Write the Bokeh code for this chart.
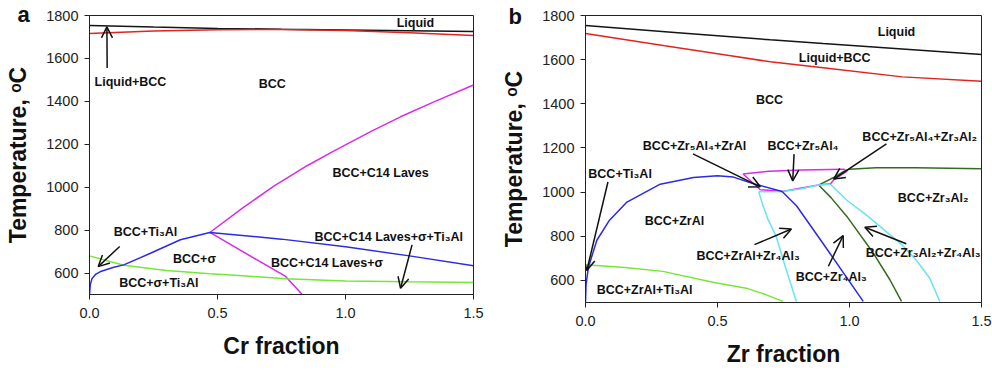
from bokeh.plotting import figure
from bokeh.layouts import row
from bokeh.models import (Range1d, FixedTicker, PrintfTickFormatter, ColumnDataSource,
                          Arrow, OpenHead, Title)
from bokeh.core.properties import value
from bokeh.embed import file_html
from bokeh.resources import INLINE

FONT = "Liberation Sans"

# ---------------- Panel a: Ti-Al-Cr isopleth (Cr fraction) ----------------
cr_liquid_x = [0.0, 0.25, 0.5, 0.75, 1.0, 1.25, 1.5]
cr_liquid_y = [1753, 1746, 1740, 1736, 1733, 1729, 1725]
cr_solidus_x = [0.0, 0.25, 0.5, 0.75, 1.0, 1.25, 1.5]
cr_solidus_y = [1716, 1728, 1734, 1735, 1730, 1720, 1707]
cr_laves_x = [0.47, 0.6, 0.72, 0.85, 0.95, 1.1, 1.215, 1.35, 1.5]
cr_laves_y = [789, 905, 1005, 1100, 1166, 1260, 1328, 1400, 1476]
cr_sigma_laves_x = [0.47, 0.766, 0.831]
cr_sigma_laves_y = [789, 584, 500]
cr_ti3al_x = [0.0, 0.003, 0.01, 0.025, 0.043, 0.095, 0.134, 0.238, 0.355, 0.47, 0.75, 1.0, 1.25, 1.5]
cr_ti3al_y = [500, 545, 575, 595, 607, 627, 638, 692, 755, 789, 758, 722, 680, 634]
cr_lowt_x = [0.0, 0.134, 0.3, 0.47, 0.6, 0.766, 1.0, 1.25, 1.5]
cr_lowt_y = [680, 636, 612, 597, 587, 573, 563, 559, 556]

cr_labels = ["Liquid", "Liquid+BCC", "BCC", "BCC+C14 Laves", "BCC+Ti₃Al", "BCC+σ",
             "BCC+C14 Laves+σ", "BCC+C14 Laves+σ+Ti₃Al", "BCC+σ+Ti₃Al"]
cr_label_x = [1.273, 0.16, 0.714, 1.137, 0.219, 0.41, 0.928, 1.169, 0.271]
cr_label_y = [1763, 1489, 1483, 1068, 789, 664, 646, 770, 553]

cr_arrow_x0 = [0.069, 0.118, 1.26]
cr_arrow_y0 = [1555, 724, 731]
cr_arrow_x1 = [0.068, 0.034, 1.215]
cr_arrow_y1 = [1747, 630, 529]

# ---------------- Panel b: Ti-Al-Zr isopleth (Zr fraction) ----------------
zr_liquid_x = [0.0, 0.35, 0.7, 0.9, 1.2, 1.5]
zr_liquid_y = [1755, 1722, 1690, 1673, 1648, 1623]
zr_solidus_x = [0.0, 0.3, 0.55, 0.7, 0.9, 1.2, 1.5]
zr_solidus_y = [1718, 1663, 1618, 1590, 1563, 1522, 1502]
zr_zral_x = [0.0, 0.002, 0.011, 0.043, 0.091, 0.157, 0.283, 0.409, 0.5, 0.56, 0.643, 0.745,
             0.80, 0.925, 1.052]
zr_zral_y = [500, 580, 660, 782, 873, 955, 1036, 1066, 1074, 1068, 1036, 1003,
             937, 724, 505]
zr_zr5al4_x = [0.662, 0.597, 0.694, 0.82, 0.978, 0.991, 0.94, 0.928, 0.883, 0.745, 0.662]
zr_zr5al4_y = [1011, 1082, 1094, 1100, 1104, 1095, 1055, 1038, 1032, 1003, 1011]
zr_zr4al3_left_x = [0.656, 0.672, 0.69, 0.722, 0.76, 0.799]
zr_zr4al3_left_y = [1002, 940, 880, 800, 649, 505]
zr_zr4al3_top_x = [0.656, 0.745, 0.814, 0.883, 0.928]
zr_zr4al3_top_y = [1002, 1003, 1014, 1032, 1036]
zr_zr4al3_right_x = [0.928, 0.991, 1.06, 1.13, 1.2, 1.254, 1.304, 1.342]
zr_zr4al3_right_y = [1036, 962, 900, 830, 760, 690, 610, 505]
zr_zr3al2_top_x = [0.883, 0.94, 0.978, 1.0, 1.1, 1.25, 1.5]
zr_zr3al2_top_y = [1032, 1066, 1094, 1104, 1110, 1110, 1106]
zr_zr3al2_low_x = [0.883, 0.93, 0.99, 1.09, 1.153, 1.197]
zr_zr3al2_low_y = [1032, 975, 890, 724, 603, 505]
zr_lowt_x = [0.0, 0.15, 0.293, 0.483, 0.609, 0.68, 0.748]
zr_lowt_y = [671, 658, 641, 592, 565, 537, 505]

zr_labels = ["Liquid", "Liquid+BCC", "BCC", "BCC+Ti₃Al", "BCC+Zr₅Al₄+ZrAl", "BCC+Zr₅Al₄",
             "BCC+Zr₅Al₄+Zr₃Al₂", "BCC+ZrAl", "BCC+Zr₃Al₂", "BCC+ZrAl+Zr₄Al₃",
             "BCC+Zr₄Al₃", "BCC+Zr₃Al₂+Zr₄Al₃", "BCC+ZrAl+Ti₃Al"]
zr_label_x = [1.178, 0.944, 0.697, 0.131, 0.413, 0.824, 1.266, 0.337, 1.317, 0.616,
              0.931, 1.279, 0.224]
zr_label_y = [1723, 1609, 1415, 1082, 1210, 1210, 1248, 868, 974, 709, 615, 724, 558]

zr_arrow_x0 = [0.085, 0.407, 0.79, 1.14, 0.64, 0.92, 1.215]
zr_arrow_y0 = [1046, 1173, 1172, 1218, 762, 664, 766]
zr_arrow_x1 = [0.005, 0.662, 0.785, 0.94, 0.78, 0.976, 1.058]
zr_arrow_y1 = [645, 1024, 1051, 1059, 833, 803, 841]

C_BLACK = "#151515"
C_RED = "#e2231f"
C_MAGENTA = "#d92be6"
C_BLUE = "#2b2be3"
C_LIME = "#77e639"
C_CYAN = "#6ae2ef"
C_DKGREEN = "#356b20"
LW = 1.5


def base_figure(frame_w, frame_h, right_border, bottom_border, xlabel):
    p = figure(frame_width=frame_w, frame_height=frame_h,
               min_border_left=89, min_border_right=right_border,
               min_border_top=15, min_border_bottom=bottom_border,
               x_range=Range1d(0, 1.5), y_range=Range1d(500, 1800),
               output_backend="svg", toolbar_location=None,
               background_fill_color="white", border_fill_color="white")
    p.grid.visible = False
    p.outline_line_color = "#222222"
    p.outline_line_width = 1
    p.xaxis.ticker = FixedTicker(ticks=[0.0, 0.5, 1.0, 1.5])
    p.xaxis.formatter = PrintfTickFormatter(format="%.1f")
    p.yaxis.ticker = FixedTicker(ticks=[600, 800, 1000, 1200, 1400, 1600, 1800])
    for ax in (p.xaxis, p.yaxis):
        ax.axis_line_color = "#222222"
        ax.major_tick_line_color = "#222222"
        ax.major_tick_out = 5
        ax.major_tick_in = 0
        ax.minor_tick_line_color = None
        ax.major_label_text_font = FONT
        ax.major_label_text_font_size = "14.5px"
        ax.major_label_text_color = "#222222"
        ax.axis_label_text_font = FONT
        ax.axis_label_text_font_size = "23px"
        ax.axis_label_text_font_style = "bold"
        ax.axis_label_text_color = "#111111"
    p.xaxis.axis_label = xlabel
    p.yaxis.axis_label = "Temperature, ᵒC"
    p.xaxis.major_label_standoff = 8
    p.xaxis.axis_label_standoff = 12
    p.yaxis.major_label_standoff = 6
    p.yaxis.axis_label_standoff = 12
    return p


def add_text(p, labels, xs, ys):
    src = ColumnDataSource(dict(x=xs, y=ys, t=labels))
    p.text("x", "y", text="t", source=src, text_font=value(FONT),
           text_font_size="12.5px", text_font_style="bold", text_color="#111111",
           text_align="center", text_baseline="middle")


def add_arrows(p, x0, y0, x1, y1):
    src = ColumnDataSource(dict(x0=x0, y0=y0, x1=x1, y1=y1))
    p.add_layout(Arrow(end=OpenHead(size=11, line_width=1.5, line_color="#111111"),
                       x_start="x0", y_start="y0", x_end="x1", y_end="y1",
                       line_width=1.5, line_color="#111111", source=src))


def add_panel_letter(p, letter, dx, drop):
    # panel letter sits in the top border, shifted left past the frame edge
    t = Title(text=letter, align="left", vertical_align="bottom", offset=dx,
              text_font=FONT, text_font_size="22px", text_font_style="bold",
              text_color="#111111")
    try:
        t.standoff = drop
    except Exception:
        t.standoff = 0
    p.add_layout(t, "above")


# Panel a
pa = base_figure(384, 279, 23, 77, "Cr fraction")
pa.line(cr_liquid_x, cr_liquid_y, line_color=C_BLACK, line_width=LW)
pa.line(cr_solidus_x, cr_solidus_y, line_color=C_RED, line_width=LW)
pa.line(cr_laves_x, cr_laves_y, line_color=C_MAGENTA, line_width=LW)
pa.line(cr_sigma_laves_x, cr_sigma_laves_y, line_color=C_MAGENTA, line_width=LW)
pa.line(cr_lowt_x, cr_lowt_y, line_color=C_LIME, line_width=LW)
pa.line(cr_ti3al_x, cr_ti3al_y, line_color=C_BLUE, line_width=LW)
add_text(pa, cr_labels, cr_label_x, cr_label_y)
add_arrows(pa, cr_arrow_x0, cr_arrow_y0, cr_arrow_x1, cr_arrow_y1)
add_panel_letter(pa, "a", -72, -23)

# Panel b
pb = base_figure(396, 287, 11, 69, "Zr fraction")
pb.line(zr_liquid_x, zr_liquid_y, line_color=C_BLACK, line_width=LW)
pb.line(zr_solidus_x, zr_solidus_y, line_color=C_RED, line_width=LW)
pb.line(zr_lowt_x, zr_lowt_y, line_color=C_LIME, line_width=LW)
pb.line(zr_zr4al3_left_x, zr_zr4al3_left_y, line_color=C_CYAN, line_width=LW)
pb.line(zr_zr4al3_right_x, zr_zr4al3_right_y, line_color=C_CYAN, line_width=LW)
pb.line(zr_zr3al2_top_x, zr_zr3al2_top_y, line_color=C_DKGREEN, line_width=LW)
pb.line(zr_zr3al2_low_x, zr_zr3al2_low_y, line_color=C_DKGREEN, line_width=LW)
pb.line(zr_zr5al4_x, zr_zr5al4_y, line_color=C_MAGENTA, line_width=LW)
pb.line(zr_zr4al3_top_x, zr_zr4al3_top_y, line_color=C_CYAN, line_width=LW)
pb.line(zr_zral_x, zr_zral_y, line_color=C_BLUE, line_width=LW)
add_text(pb, zr_labels, zr_label_x, zr_label_y)
add_arrows(pb, zr_arrow_x0, zr_arrow_y0, zr_arrow_x1, zr_arrow_y1)
add_panel_letter(pb, "b", -77, -27)

layout = row(pa, pb, spacing=0)
open("out.html", "w").write(file_html(layout, INLINE))
